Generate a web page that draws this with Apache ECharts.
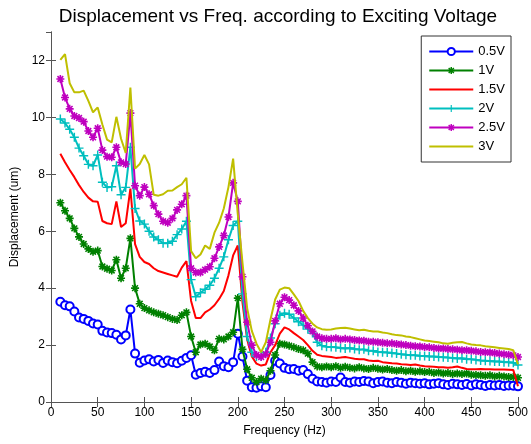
<!DOCTYPE html>
<html>
<head>
<meta charset="utf-8">
<script src="https://cdn.jsdelivr.net/npm/echarts@6/dist/echarts.min.js"></script>
<style>
  html, body { margin: 0; padding: 0; background: #fff; }
  #chart { width: 531px; height: 444px; }
</style>
</head>
<body>
<div id="chart"></div>
<script>
  // frequency grid (Hz)
  const freq = [
    10, 15, 20, 25, 30, 35, 40, 45, 50, 55,
    60, 65, 70, 75, 80, 85, 90, 95, 100, 105,
    110, 115, 120, 125, 130, 135, 140, 145, 150, 155,
    160, 165, 170, 175, 180, 185, 190, 195, 200, 205,
    210, 215, 220, 225, 230, 235, 240, 245, 250, 255,
    260, 265, 270, 275, 280, 285, 290, 295, 300, 305,
    310, 315, 320, 325, 330, 335, 340, 345, 350, 355,
    360, 365, 370, 375, 380, 385, 390, 395, 400, 405,
    410, 415, 420, 425, 430, 435, 440, 445, 450, 455,
    460, 465, 470, 475, 480, 485, 490, 495, 500
  ];

  const v05 = [
    3.52, 3.40, 3.36, 3.18, 2.97, 2.92, 2.85, 2.76, 2.72, 2.50,
    2.44, 2.42, 2.36, 2.20, 2.34, 3.25, 1.70, 1.38, 1.46, 1.50,
    1.42, 1.48, 1.37, 1.46, 1.40, 1.36, 1.45, 1.55, 1.64, 0.96,
    1.02, 1.06, 1.02, 1.12, 1.42, 1.26, 1.22, 1.40, 2.40, 1.60,
    0.75, 0.52, 0.50, 0.55, 0.52, 0.95, 1.45, 1.35, 1.20, 1.15,
    1.16, 1.10, 1.12, 0.98, 0.82, 0.72, 0.70, 0.68, 0.72, 0.70,
    0.86, 0.70, 0.68, 0.72, 0.70, 0.74, 0.72, 0.66, 0.70, 0.72,
    0.68, 0.66, 0.70, 0.68, 0.64, 0.68, 0.66, 0.64, 0.66, 0.62,
    0.64, 0.66, 0.62, 0.60, 0.64, 0.62, 0.60, 0.63, 0.58, 0.62,
    0.60, 0.56, 0.60, 0.58, 0.60, 0.56, 0.58, 0.57, 0.55
  ];
  const v1 = [
    7.00, 6.72, 6.45, 6.10, 5.80, 5.55, 5.38, 5.28, 5.32, 4.76,
    4.68, 4.62, 5.00, 4.35, 4.70, 5.75, 4.00, 3.45, 3.30, 3.22,
    3.15, 3.10, 3.05, 2.98, 2.92, 2.88, 3.05, 3.15, 2.30, 1.75,
    2.02, 2.05, 1.95, 1.82, 2.22, 2.20, 2.30, 2.45, 3.65, 1.85,
    1.15, 0.85, 0.70, 0.82, 0.76, 1.10, 1.65, 2.05, 2.02, 1.98,
    1.92, 1.86, 1.82, 1.70, 1.40, 1.25, 1.22, 1.25, 1.22, 1.26,
    1.20, 1.24, 1.20, 1.18, 1.22, 1.18, 1.16, 1.20, 1.17, 1.14,
    1.16, 1.12, 1.10, 1.12, 1.08, 1.10, 1.06, 1.08, 1.05, 1.06,
    1.02, 1.04, 1.00, 1.02, 0.98, 1.00, 0.98, 1.00, 0.96, 0.95,
    0.94, 0.92, 0.94, 0.90, 0.92, 0.90, 0.88, 0.88, 0.85
  ];
  const v15 = [
    8.72, 8.42, 8.15, 7.90, 7.62, 7.38, 7.18, 7.05, 7.04, 6.36,
    6.28, 6.25, 7.05, 6.15, 6.28, 7.50, 5.55, 5.10, 4.92, 4.85,
    4.70, 4.60, 4.55, 4.50, 4.45, 4.40, 4.72, 4.95, 3.55, 2.95,
    2.95, 3.15, 3.25, 3.40, 3.62, 3.90, 4.45, 5.15, 5.50, 3.50,
    2.20, 1.60, 1.35, 1.28, 1.32, 1.75, 2.00, 2.40, 2.62, 2.55,
    2.42, 2.30, 2.18, 2.00, 1.80, 1.66, 1.62, 1.60, 1.58, 1.55,
    1.56, 1.58, 1.55, 1.52, 1.50, 1.50, 1.46, 1.44, 1.45, 1.40,
    1.38, 1.36, 1.35, 1.33, 1.32, 1.30, 1.32, 1.28, 1.26, 1.25,
    1.24, 1.22, 1.22, 1.20, 1.22, 1.25, 1.20, 1.16, 1.15, 1.15,
    1.16, 1.15, 1.15, 1.14, 1.14, 1.14, 1.13, 1.12, 0.55
  ];
  const v2 = [
    9.94, 9.80, 9.58, 9.30, 8.92, 8.65, 8.35, 8.30, 8.68, 7.72,
    7.54, 7.56, 8.30, 7.28, 7.54, 8.95, 6.80, 6.36, 6.25, 6.00,
    5.80, 5.70, 5.58, 5.58, 5.65, 5.88, 6.08, 6.35, 4.30, 3.70,
    3.84, 3.96, 4.10, 4.35, 4.70, 5.10, 5.70, 6.20, 6.35, 3.80,
    2.30, 1.75, 1.60, 1.62, 1.75, 2.25, 2.75, 3.05, 3.12, 3.08,
    2.95, 2.82, 2.70, 2.56, 2.42, 2.10, 1.98, 1.94, 1.93, 1.92,
    1.90, 1.88, 1.90, 1.86, 1.84, 1.85, 1.80, 1.80, 1.76, 1.75,
    1.74, 1.72, 1.70, 1.68, 1.66, 1.64, 1.64, 1.62, 1.62, 1.60,
    1.60, 1.58, 1.57, 1.56, 1.55, 1.53, 1.54, 1.50, 1.50, 1.48,
    1.46, 1.45, 1.44, 1.42, 1.42, 1.40, 1.40, 1.38, 1.30
  ];
  const v25 = [
    11.35, 10.70, 10.30, 10.05, 9.98, 9.85, 9.52, 9.30, 9.62, 8.85,
    8.62, 8.60, 8.95, 8.42, 8.36, 10.15, 7.60, 7.25, 7.55, 7.30,
    6.90, 6.60, 6.35, 6.30, 6.45, 6.75, 6.95, 7.25, 4.70, 4.55,
    4.55, 4.65, 4.75, 5.05, 5.45, 5.85, 6.50, 7.70, 7.05, 4.40,
    2.80, 2.00, 1.65, 1.58, 1.68, 2.10, 2.85, 3.45, 3.68, 3.58,
    3.40, 3.20, 2.95, 2.68, 2.48, 2.30, 2.24, 2.22, 2.22, 2.24,
    2.20, 2.22, 2.20, 2.18, 2.16, 2.15, 2.12, 2.12, 2.10, 2.08,
    2.06, 2.06, 2.04, 2.02, 2.00, 1.98, 1.96, 1.95, 1.93, 1.92,
    1.90, 1.88, 1.88, 1.86, 1.85, 1.84, 1.82, 1.82, 1.80, 1.78,
    1.76, 1.75, 1.74, 1.72, 1.70, 1.68, 1.66, 1.64, 1.58
  ];
  const v3 = [
    12.02, 12.22, 11.20, 10.88, 10.88, 10.94, 10.58, 10.18, 10.35, 9.75,
    9.22, 9.12, 10.02, 9.25, 8.75, 11.05, 8.20, 8.36, 8.68, 8.35,
    7.28, 7.25, 7.30, 7.42, 7.43, 7.55, 7.65, 7.88, 5.30, 5.05,
    5.18, 5.50, 5.38, 5.95, 6.30, 6.80, 7.55, 8.55, 6.60, 4.90,
    3.30, 2.50, 2.05, 1.75, 2.10, 2.90, 3.60, 3.95, 4.02, 4.00,
    3.78, 3.55, 3.20, 2.95, 2.75, 2.62, 2.56, 2.54, 2.55, 2.58,
    2.60, 2.61, 2.58, 2.55, 2.52, 2.54, 2.50, 2.48, 2.48, 2.44,
    2.42, 2.38, 2.35, 2.34, 2.30, 2.28, 2.24, 2.20, 2.16, 2.14,
    2.12, 2.10, 2.06, 2.05, 2.08, 2.10, 2.11, 2.06, 2.02, 2.00,
    1.99, 1.96, 1.94, 1.92, 1.90, 1.88, 1.86, 1.82, 1.32
  ];

  const names = ['0.5V', '1V', '1.5V', '2V', '2.5V', '3V'];
  const colors = ['#0000ff', '#008000', '#ff0000', '#00bfbf', '#bf00bf', '#bfbf00'];

  // marker shapes (MATLAB-like)
  const plusPath = 'path://M4.2,0H5.8V4.2H10V5.8H5.8V10H4.2V5.8H0V4.2H4.2Z';
  const starPath = 'path://M4,0H6V4H10V6H6V10H4V6H0V4H4Z' +
    'M0.7,2.1L2.1,0.7L9.3,7.9L7.9,9.3Z' +
    'M7.9,0.7L9.3,2.1L2.1,9.3L0.7,7.9Z';
  const symbols = ['emptyCircle', starPath, 'circle', plusPath, starPath, 'circle'];
  const hasMarker = [true, true, false, true, true, false];
  const symbolSizes = [8, 8, 4, 9, 8, 4];

  const font = 'Liberation Sans, Arial, sans-serif';
  const axisColor = '#555';

  function pairs(vals) {
    let out = [];
    for (let i = 0; i < freq.length; i++) {
      out.push([freq[i], vals[i]]);
    }
    return out;
  }

  const chart = echarts.init(document.getElementById('chart'));

  const seriesVals = [v05, v1, v15, v2, v25, v3];
  let series = [];
  seriesVals.forEach(function (vals, i) {
    series.push({
      name: names[i],
      type: 'line',
      data: pairs(vals),
      symbol: symbols[i],
      symbolSize: symbolSizes[i],
      showSymbol: hasMarker[i],
      itemStyle: { color: colors[i], borderWidth: i === 0 ? 1.6 : 0 },
      lineStyle: { color: colors[i], width: 2 },
      emphasis: { disabled: true },
      animation: false,
      z: 2 + i
    });
  });

  // legend entries: hide the marker for the plain-line series
  let legendData = names.map(function (n, i) {
    return hasMarker[i] ? { name: n } : { name: n, itemStyle: { color: 'rgba(0,0,0,0)', opacity: 0 } };
  });

  chart.setOption({
    animation: false,
    title: {
      text: 'Displacement vs Freq. according to Exciting Voltage',
      left: 273,
      top: 2,
      textAlign: 'center',
      textStyle: { fontFamily: font, fontSize: 19, fontWeight: 'normal', color: '#000' }
    },
    legend: {
      data: legendData,
      orient: 'vertical',
      right: 20,
      top: 36,
      padding: [9, 6, 9, 7],
      itemWidth: 44,
      itemHeight: 9,
      itemGap: 6,
      backgroundColor: '#fff',
      borderColor: '#333',
      borderWidth: 1,
      borderRadius: 0,
      textStyle: { fontFamily: font, fontSize: 13, color: '#000' }
    },
    grid: { left: 51, right: 13, top: 32, bottom: 42 },
    xAxis: [{
      type: 'value',
      min: 0,
      max: 500,
      interval: 50,
      name: 'Frequency (Hz)',
      nameLocation: 'middle',
      nameGap: 23,
      nameTextStyle: { fontFamily: font, fontSize: 12, color: '#000' },
      axisLine: { lineStyle: { color: axisColor } },
      axisTick: { inside: true, length: 5, lineStyle: { color: axisColor } },
      axisLabel: { fontFamily: font, fontSize: 12, color: '#000', margin: 5 },
      splitLine: { show: false }
    }, {
      type: 'value',
      position: 'top',
      min: 0,
      max: 500,
      interval: 50,
      axisLine: { lineStyle: { color: axisColor } },
      axisTick: { inside: true, length: 5, lineStyle: { color: axisColor } },
      axisLabel: { show: false },
      splitLine: { show: false }
    }],
    yAxis: [{
      type: 'value',
      min: 0,
      max: 13,
      interval: 2,
      name: 'Displacement (um)',
      nameLocation: 'middle',
      nameGap: 30,
      nameTextStyle: { fontFamily: font, fontSize: 12, color: '#000' },
      axisLine: { show: true, lineStyle: { color: axisColor } },
      axisTick: { show: true, inside: true, length: 5, lineStyle: { color: axisColor } },
      axisLabel: { fontFamily: font, fontSize: 12, color: '#000', margin: 6, showMaxLabel: false },
      splitLine: { show: false }
    }, {
      type: 'value',
      position: 'right',
      min: 0,
      max: 13,
      interval: 2,
      axisLine: { show: true, lineStyle: { color: axisColor } },
      axisTick: { show: true, inside: true, length: 5, lineStyle: { color: axisColor } },
      axisLabel: { show: false },
      splitLine: { show: false }
    }],
    series: series
  });
</script>
</body>
</html>
